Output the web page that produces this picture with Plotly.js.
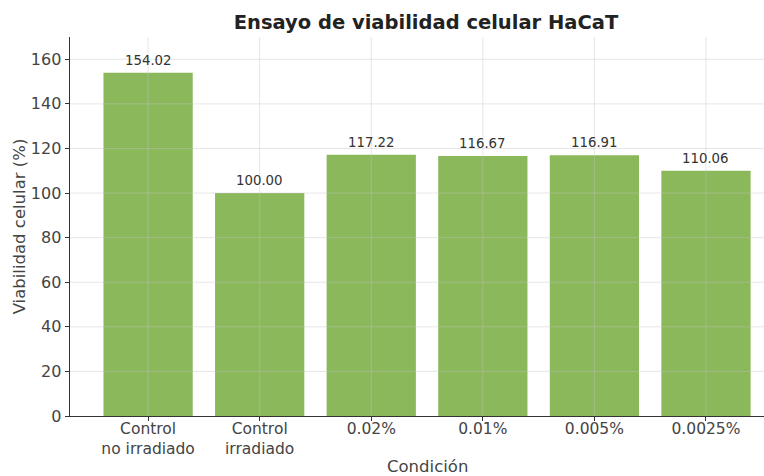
<!DOCTYPE html>
<html>
<head>
<meta charset="utf-8">
<script src="https://cdn.plot.ly/plotly-3.0.1.min.js"></script>
<style>html,body{margin:0;padding:0;background:#fff;}#chart{width:764px;height:476px;}</style>
</head>
<body>
<div id="chart"></div>
<script>
const categories = ["Control<br>no irradiado", "Control<br>irradiado", "0.02%", "0.01%", "0.005%", "0.0025%"];
const viability = [154.02, 100.00, 117.22, 116.67, 116.91, 110.06];
const yTicks = [0, 20, 40, 60, 80, 100, 120, 140, 160];

const FONT = "DejaVu Sans, sans-serif";
const GRID = "rgba(195,195,195,0.42)";

const trace = {
  type: "bar",
  x: categories,
  y: viability,
  width: 0.8,
  marker: {color: "#8bb85b", line: {width: 0}},
  hoverinfo: "skip"
};

// gridlines drawn above the bars (as in the reference)
const gridShapes = [];
categories.forEach((c, i) => {
  gridShapes.push({type: "line", layer: "above", xref: "x", yref: "paper",
    x0: i, x1: i, y0: 0, y1: 1, line: {color: GRID, width: 1}});
});
yTicks.forEach(v => {
  if (v === 0) return;
  gridShapes.push({type: "line", layer: "above", xref: "paper", yref: "y",
    x0: 0, x1: 1, y0: v, y1: v, line: {color: GRID, width: 1}});
});

const valueLabels = viability.map((v, i) => ({
  x: categories[i], y: v, xref: "x", yref: "y",
  text: v.toFixed(2), showarrow: false,
  xanchor: "center", yanchor: "bottom", yshift: 3,
  font: {family: FONT, size: 13.3, color: "#333"}
}));

const layout = {
  width: 764, height: 476,
  margin: {l: 70, r: 0, t: 37, b: 60},
  paper_bgcolor: "#fff", plot_bgcolor: "#fff",
  showlegend: false,
  title: {
    text: "<b>Ensayo de viabilidad celular HaCaT</b>",
    font: {family: FONT, size: 19.5, color: "#222"},
    x: 426 / 764, xanchor: "center", xref: "container",
    y: 1 - 22 / 476, yanchor: "middle", yref: "container"
  },
  xaxis: {
    type: "category",
    range: [-0.7, 5.52],
    showgrid: false,
    showline: true, linecolor: "#333", linewidth: 1.4,
    ticks: "outside", ticklen: 4, tickcolor: "#333",
    ticklabelstandoff: -6,
    tickfont: {family: FONT, size: 15.5, color: "#444"},
    layer: "above traces",
    zeroline: false, fixedrange: true
  },
  yaxis: {
    range: [0, 170],
    tickvals: yTicks,
    ticktext: yTicks.map(String),
    showgrid: false,
    showline: true, linecolor: "#333", linewidth: 1.4,
    ticks: "outside", ticklen: 4, tickcolor: "#333",
    tickfont: {family: FONT, size: 16, color: "#444"},
    title: {text: "Viabilidad celular (%)", font: {family: FONT, size: 16.5, color: "#444"}, standoff: 1},
    layer: "above traces",
    zeroline: false, fixedrange: true
  },
  shapes: gridShapes,
  annotations: valueLabels.concat([{
    text: "Condición",
    xref: "paper", yref: "paper",
    x: (427 - 70) / 694, y: -(466 - 416) / 379,
    xanchor: "center", yanchor: "middle",
    showarrow: false,
    font: {family: FONT, size: 16.5, color: "#444"}
  }])
};

Plotly.newPlot("chart", [trace], layout, {displayModeBar: false, staticPlot: true});
</script>
</body>
</html>
